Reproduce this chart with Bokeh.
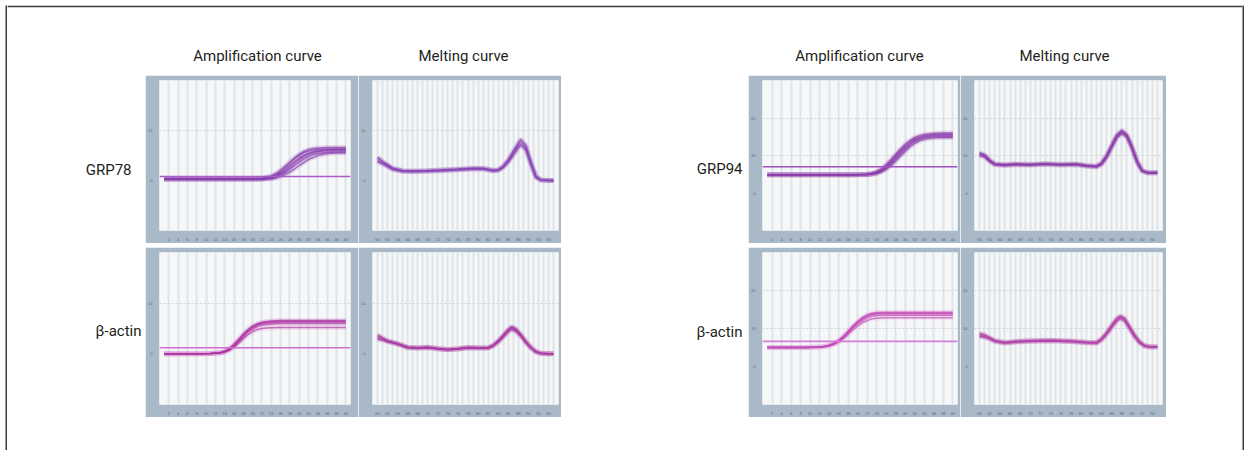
from bokeh.plotting import figure
from bokeh.layouts import row, column
from bokeh.models import Range1d, Span, Label, FixedTicker, Spacer
from bokeh.embed import file_html
from bokeh.resources import INLINE

# ---------------- texts ----------------
col_titles = ["Amplification curve", "Melting curve", "Amplification curve", "Melting curve"]
gene_labels_left = ["GRP78", "β-actin"]
gene_labels_right = ["GRP94", "β-actin"]

# ---------------- GRP78 amplification ----------------
grp78_amp_cycles = [1, 4, 8, 12, 16, 20, 22, 24, 25, 26, 27, 28, 29, 30, 31, 32, 33, 34, 36, 38, 40]
grp78_amp_curves = [
    [0.3, 0.3, 0.3, 0.3, 0.3, 0.3, 0.4, 0.9, 1.4, 2.1, 2.9, 3.7, 4.5, 5.1, 5.6, 5.9, 6.1, 6.2, 6.3, 6.3, 6.3],
    [0.3, 0.3, 0.3, 0.3, 0.3, 0.3, 0.35, 0.6, 1.0, 1.5, 2.2, 3.0, 3.8, 4.5, 5.0, 5.4, 5.7, 5.9, 6.0, 6.0, 6.0],
    [0.3, 0.3, 0.3, 0.3, 0.3, 0.3, 0.3, 0.45, 0.7, 1.1, 1.6, 2.3, 3.0, 3.7, 4.3, 4.8, 5.2, 5.4, 5.6, 5.7, 5.7],
    [0.3, 0.3, 0.3, 0.3, 0.3, 0.3, 0.3, 0.35, 0.5, 0.8, 1.2, 1.7, 2.3, 3.0, 3.6, 4.2, 4.6, 5.0, 5.4, 5.5, 5.5],
    [0.3, 0.3, 0.3, 0.3, 0.3, 0.3, 0.4, 0.8, 1.2, 1.8, 2.6, 3.5, 4.4, 5.2, 5.8, 6.2, 6.4, 6.5, 6.6, 6.6, 6.6],
    [0.3, 0.3, 0.3, 0.3, 0.3, 0.3, 0.3, 0.5, 0.8, 1.3, 1.9, 2.6, 3.4, 4.2, 4.8, 5.3, 5.6, 5.8, 6.1, 6.2, 6.2],
]
grp78_threshold = 0.8

# ---------------- GRP78 melting ----------------
grp78_melt_temps = [60, 61.5, 63, 65, 67, 70, 73, 76, 79, 81, 83, 84, 85, 86, 87, 88, 88.5, 89.5, 90.5, 91.5, 92.5, 94, 95]
grp78_melt_curves = [
    [4.5, 3.4, 2.4, 1.9, 1.85, 1.9, 2.1, 2.2, 2.4, 2.4, 2.0, 2.1, 2.8, 4.0, 5.6, 7.2, 7.8, 6.8, 3.6, 0.8, 0.1, 0.0, 0.0],
    [4.0, 3.2, 2.3, 1.9, 1.8, 1.9, 2.0, 2.2, 2.3, 2.35, 1.95, 2.05, 2.7, 3.8, 5.3, 6.8, 7.3, 6.4, 3.4, 0.7, 0.1, 0.0, 0.0],
    [4.7, 3.5, 2.5, 2.0, 1.95, 2.0, 2.15, 2.3, 2.5, 2.45, 2.05, 2.15, 2.9, 4.2, 5.9, 7.6, 8.3, 7.1, 3.8, 0.9, 0.15, 0.0, 0.0],
    [3.8, 3.0, 2.2, 1.8, 1.75, 1.85, 1.95, 2.1, 2.25, 2.3, 1.9, 2.0, 2.6, 3.6, 5.0, 6.5, 7.0, 6.1, 3.2, 0.6, 0.05, 0.0, 0.0],
]

# ---------------- beta-actin (left) amplification ----------------
actin1_amp_cycles = [1, 4, 8, 11, 13, 14, 15, 16, 17, 18, 19, 20, 21, 22, 23, 24, 26, 30, 34, 38, 40]
actin1_amp_curves = [
    [0, 0, 0, 0.05, 0.2, 0.5, 1.0, 1.8, 2.8, 3.8, 4.7, 5.4, 5.9, 6.2, 6.4, 6.5, 6.6, 6.6, 6.6, 6.6, 6.6],
    [0, 0, 0, 0.05, 0.2, 0.4, 0.9, 1.6, 2.6, 3.6, 4.5, 5.2, 5.7, 6.0, 6.1, 6.2, 6.3, 6.3, 6.3, 6.3, 6.3],
    [0, 0, 0, 0.05, 0.15, 0.4, 0.8, 1.5, 2.4, 3.4, 4.3, 4.9, 5.4, 5.7, 5.8, 5.9, 6.0, 6.0, 6.0, 6.0, 6.0],
    [0, 0, 0, 0.05, 0.15, 0.35, 0.7, 1.3, 2.1, 3.0, 3.8, 4.4, 4.8, 5.0, 5.1, 5.15, 5.2, 5.2, 5.2, 5.2, 5.2],
    [0, 0, 0, 0.05, 0.2, 0.5, 1.1, 1.9, 2.9, 3.9, 4.8, 5.5, 5.9, 6.2, 6.3, 6.4, 6.45, 6.45, 6.45, 6.45, 6.45],
]
actin1_threshold = 1.2

# ---------------- beta-actin (left) melting ----------------
actin1_melt_temps = [60, 61, 62, 64, 66, 68, 70, 72, 74, 76, 78, 80, 82, 83, 84, 85, 86, 86.7, 87.5, 88.5, 89.5, 90.5, 91.5, 92.5, 94, 95]
actin1_melt_curves = [
    [3.8, 3.2, 2.6, 2.0, 1.3, 1.2, 1.3, 1.05, 0.85, 1.0, 1.25, 1.2, 1.2, 1.7, 2.6, 3.7, 4.9, 5.4, 5.0, 3.9, 2.5, 1.3, 0.45, 0.1, 0.0, 0.0],
    [2.9, 2.7, 2.4, 1.9, 1.25, 1.15, 1.25, 1.0, 0.8, 0.95, 1.2, 1.15, 1.15, 1.6, 2.4, 3.4, 4.5, 5.0, 4.6, 3.6, 2.3, 1.2, 0.4, 0.1, 0.0, 0.0],
    [3.5, 3.0, 2.5, 2.0, 1.3, 1.2, 1.3, 1.05, 0.85, 1.0, 1.25, 1.2, 1.2, 1.65, 2.5, 3.6, 4.7, 5.2, 4.8, 3.7, 2.4, 1.25, 0.42, 0.1, 0.0, 0.0],
    [3.1, 2.8, 2.5, 1.95, 1.2, 1.1, 1.2, 0.95, 0.8, 0.95, 1.2, 1.1, 1.1, 1.55, 2.3, 3.3, 4.3, 4.8, 4.4, 3.5, 2.2, 1.15, 0.38, 0.08, 0.0, 0.0],
]

# ---------------- GRP94 amplification ----------------
grp94_amp_cycles = [1, 5, 10, 15, 20, 22, 23, 24, 25, 26, 27, 28, 29, 30, 31, 32, 33, 34, 36, 38, 40]
grp94_amp_curves = [
    [4.9, 4.9, 4.9, 4.9, 4.9, 5.0, 5.2, 5.7, 6.5, 7.6, 8.9, 10.3, 11.7, 13.0, 14.0, 14.8, 15.3, 15.6, 15.9, 16.0, 16.0],
    [4.9, 4.9, 4.9, 4.9, 4.9, 4.95, 5.1, 5.4, 6.0, 6.9, 8.1, 9.4, 10.8, 12.1, 13.2, 14.0, 14.6, 15.0, 15.3, 15.4, 15.4],
    [4.9, 4.9, 4.9, 4.9, 4.9, 4.9, 5.0, 5.2, 5.6, 6.3, 7.3, 8.5, 9.8, 11.1, 12.3, 13.2, 13.9, 14.3, 14.7, 14.8, 14.8],
    [4.9, 4.9, 4.9, 4.9, 4.9, 4.95, 5.05, 5.3, 5.8, 6.6, 7.7, 9.0, 10.4, 11.7, 12.8, 13.7, 14.3, 14.7, 15.0, 15.0, 15.0],
    [4.9, 4.9, 4.9, 4.9, 4.9, 5.0, 5.15, 5.5, 6.2, 7.2, 8.5, 9.9, 11.3, 12.6, 13.6, 14.4, 14.9, 15.3, 15.6, 15.7, 15.7],
]
grp94_threshold = 7.0

# ---------------- GRP94 melting ----------------
grp94_melt_temps = [60, 61, 62, 63, 65, 67, 70, 73, 76, 79, 81, 83, 84, 85, 86, 87, 88, 89, 90, 91, 92, 93, 95]
grp94_melt_curves = [
    [10.8, 10.2, 8.8, 7.8, 7.6, 7.8, 7.6, 7.9, 7.7, 7.8, 7.4, 7.2, 8.0, 10.0, 12.8, 15.5, 16.8, 15.6, 12.5, 8.6, 6.0, 5.5, 5.5],
    [10.2, 9.8, 8.5, 7.6, 7.4, 7.6, 7.5, 7.7, 7.5, 7.6, 7.2, 7.0, 7.8, 9.7, 12.4, 15.0, 16.2, 15.1, 12.0, 8.3, 5.9, 5.4, 5.4],
    [10.5, 10.0, 8.7, 7.7, 7.5, 7.7, 7.6, 7.8, 7.6, 7.7, 7.3, 7.1, 7.9, 9.9, 12.6, 15.3, 16.5, 15.3, 12.2, 8.4, 6.0, 5.5, 5.5],
    [9.9, 9.6, 8.4, 7.5, 7.3, 7.5, 7.4, 7.6, 7.4, 7.5, 7.1, 6.9, 7.6, 9.4, 12.0, 14.6, 15.8, 14.8, 11.8, 8.1, 5.8, 5.3, 5.3],
]

# ---------------- beta-actin (right) amplification ----------------
actin2_amp_cycles = [1, 5, 9, 12, 13, 14, 15, 16, 17, 18, 19, 20, 21, 22, 23, 24, 26, 30, 34, 38, 40]
actin2_amp_curves = [
    [5.0, 5.0, 5.0, 5.1, 5.3, 5.6, 6.1, 6.9, 8.0, 9.3, 10.7, 11.9, 12.9, 13.6, 14.0, 14.2, 14.3, 14.3, 14.3, 14.3, 14.3],
    [5.0, 5.0, 5.0, 5.1, 5.25, 5.5, 6.0, 6.7, 7.7, 9.0, 10.3, 11.5, 12.5, 13.2, 13.6, 13.8, 13.9, 13.9, 13.9, 13.9, 13.9],
    [5.0, 5.0, 5.0, 5.05, 5.2, 5.45, 5.9, 6.6, 7.6, 8.8, 10.1, 11.2, 12.1, 12.8, 13.2, 13.4, 13.5, 13.5, 13.5, 13.5, 13.5],
    [5.0, 5.0, 5.0, 5.05, 5.2, 5.4, 5.8, 6.4, 7.3, 8.4, 9.6, 10.6, 11.5, 12.1, 12.5, 12.7, 12.8, 12.8, 12.8, 12.8, 12.8],
    [5.0, 5.0, 5.0, 5.1, 5.3, 5.6, 6.1, 6.8, 7.9, 9.2, 10.5, 11.7, 12.7, 13.4, 13.8, 14.0, 14.1, 14.1, 14.1, 14.1, 14.1],
]
actin2_threshold = 6.6

# ---------------- beta-actin (right) melting ----------------
actin2_melt_temps = [60, 61, 62, 63, 65, 67, 70, 74, 78, 81, 83, 84, 85, 86, 87, 87.7, 88.5, 89.5, 90.5, 91.5, 92.5, 93.5, 95]
actin2_melt_curves = [
    [8.8, 8.4, 7.6, 6.8, 6.3, 6.6, 6.8, 6.9, 6.7, 6.4, 6.3, 7.3, 8.9, 10.9, 12.7, 13.4, 12.8, 10.6, 8.3, 6.5, 5.5, 5.2, 5.2],
    [7.8, 7.7, 7.3, 6.7, 6.2, 6.5, 6.7, 6.8, 6.6, 6.3, 6.2, 7.1, 8.6, 10.5, 12.2, 12.8, 12.3, 10.2, 8.0, 6.3, 5.4, 5.2, 5.2],
    [8.4, 8.1, 7.5, 6.8, 6.3, 6.6, 6.8, 6.9, 6.7, 6.4, 6.3, 7.2, 8.8, 10.8, 12.5, 13.1, 12.6, 10.4, 8.2, 6.4, 5.5, 5.2, 5.2],
    [8.0, 7.8, 7.2, 6.6, 6.1, 6.4, 6.6, 6.7, 6.5, 6.2, 6.1, 7.0, 8.4, 10.2, 11.9, 12.5, 12.0, 10.0, 7.8, 6.2, 5.3, 5.1, 5.1],
]

# ---------------- styling ----------------
FRAME = "#a9b9c7"
PLOT_BG = "#f6f7f8"
GRID = "#e0e4e8"
BORDER = "#3a3a3a"
TEXT_FONT = "Roboto"
TEXT_SIZE = "15px"
TEXT_COLOR = "#231f20"

W_IN = 1235          # content width between the two border strips
H_TITLE = 68         # title band below the top border line
H_TOP = 168
H_GAP = 4
H_BOT = 170
H_FOOT = 33
COL_W = [138, 213, 203, 187, 212, 206]
COL_W.append(W_IN - sum(COL_W))
H_ALL = 2 + H_TITLE + H_TOP + H_GAP + H_BOT + H_FOOT


def blank(width, height, fill="white"):
    p = figure(width=width, height=height, x_range=Range1d(0, width), y_range=Range1d(height, 0),
               output_backend="svg", toolbar_location=None, title=None,
               x_axis_location=None, y_axis_location=None,
               min_border=0, border_fill_color=fill, background_fill_color=fill,
               outline_line_color=None)
    p.xgrid.visible = False
    p.ygrid.visible = False
    return p


def add_text(p, x, y, text, align):
    p.add_layout(Label(x=x, y=y, text=text, text_align=align, text_baseline="alphabetic",
                       text_font=TEXT_FONT, text_font_size=TEXT_SIZE, text_color=TEXT_COLOR))


def panel(width, height, xr, yr, xticks, xgrid, yticks, borders, xs, curves, color,
          threshold=None, thr_color=None, halo=None):
    p = figure(width=width, height=height, x_range=Range1d(*xr), y_range=Range1d(*yr),
               output_backend="svg", toolbar_location=None, title=None,
               min_border_left=borders[0], min_border_right=borders[1],
               min_border_top=borders[2], min_border_bottom=borders[3],
               border_fill_color=FRAME, background_fill_color=PLOT_BG, outline_line_color=None)
    for ax in (p.xaxis[0], p.yaxis[0]):
        ax.axis_line_color = None
        ax.major_tick_line_color = None
        ax.minor_tick_line_color = None
        ax.major_label_text_font_size = "4px"
        ax.major_label_text_color = "#5a6875"
        ax.major_label_standoff = 1
    p.xaxis.ticker = FixedTicker(ticks=xticks)
    p.yaxis.ticker = FixedTicker(ticks=yticks)
    p.xgrid.ticker = FixedTicker(ticks=xgrid)
    p.xgrid.grid_line_color = GRID
    p.xgrid.grid_line_width = 2
    p.ygrid.ticker = FixedTicker(ticks=[t for t in yticks if t != 0])
    p.ygrid.grid_line_color = "#cdd2d7"
    p.ygrid.grid_line_dash = "2 2"
    if threshold is not None:
        p.add_layout(Span(location=threshold, dimension="width", line_color=thr_color, line_width=1.6))
    for ys in curves:
        p.line(xs, ys, line_color=halo or color, line_width=5, line_alpha=0.16)
    for ys in curves:
        p.line(xs, ys, line_color=color, line_width=1.5, line_alpha=0.65)
    return p


amp_xticks = list(range(2, 41, 2))
amp_grid = list(range(0, 42, 2))
melt_xticks = list(range(60, 96, 2))
melt_grid = list(range(59, 97))

# top row
top_left_lbl = blank(COL_W[0], H_TOP)
add_text(top_left_lbl, 124, 100, gene_labels_left[0], "right")
p_grp78_amp = panel(COL_W[1], H_TOP, (0, 41), (-10, 20), amp_xticks, amp_grid, [0, 10], (13, 8, 5, 8),
                    grp78_amp_cycles, grp78_amp_curves, "#8a3db0", grp78_threshold, "#a75cc6")
p_grp78_melt = panel(COL_W[2], H_TOP, (59, 96), (-10, 20), melt_xticks, melt_grid, [0, 10], (9, 3, 5, 8),
                     grp78_melt_temps, grp78_melt_curves, "#8943b3")
top_mid = blank(COL_W[3], H_TOP)
add_text(top_mid, 181, 99, gene_labels_right[0], "right")
p_grp94_amp = panel(COL_W[4], H_TOP, (0, 41), (-10, 30), amp_xticks, amp_grid, [0, 10, 20], (14, 3, 5, 8),
                    grp94_amp_cycles, grp94_amp_curves, "#8a3aaa", grp94_threshold, "#a24fc0")
p_grp94_melt = panel(COL_W[5], H_TOP, (59, 96), (-10, 30), melt_xticks, melt_grid, [0, 10, 20], (10, 4, 5, 8),
                     grp94_melt_temps, grp94_melt_curves, "#8a3aa8")
top_right = blank(COL_W[6], H_TOP)

# bottom row
bot_left_lbl = blank(COL_W[0], H_BOT)
add_text(bot_left_lbl, 134, 88, gene_labels_left[1], "right")
p_actin1_amp = panel(COL_W[1], H_BOT, (0, 41), (-10, 20), amp_xticks, amp_grid, [0, 10], (13, 8, 5, 10),
                     actin1_amp_cycles, actin1_amp_curves, "#ad339f", actin1_threshold, "#d06fd2", halo="#d070c8")
p_actin1_melt = panel(COL_W[2], H_BOT, (59, 96), (-10, 20), melt_xticks, melt_grid, [0, 10], (9, 3, 5, 10),
                      actin1_melt_temps, actin1_melt_curves, "#a8379f")
bot_mid = blank(COL_W[3], H_BOT)
add_text(bot_mid, 181, 89, gene_labels_right[1], "right")
p_actin2_amp = panel(COL_W[4], H_BOT, (0, 41), (-10, 30), amp_xticks, amp_grid, [0, 10, 20], (14, 3, 5, 10),
                     actin2_amp_cycles, actin2_amp_curves, "#c04ab3", actin2_threshold, "#d47cd8", halo="#e08fd8")
p_actin2_melt = panel(COL_W[5], H_BOT, (59, 96), (-10, 30), melt_xticks, melt_grid, [0, 10, 20], (10, 4, 5, 10),
                      actin2_melt_temps, actin2_melt_curves, "#b040a8")
bot_right = blank(COL_W[6], H_BOT)

# title band: its top border fill draws the top edge of the outer frame
title_fig = figure(width=W_IN, height=H_TITLE + 2, x_range=Range1d(0, W_IN), y_range=Range1d(H_TITLE, 0),
                   output_backend="svg", toolbar_location=None, title=None,
                   x_axis_location=None, y_axis_location=None,
                   min_border_left=0, min_border_right=0, min_border_top=2, min_border_bottom=0,
                   border_fill_color=BORDER, background_fill_color="white", outline_line_color=None)
title_fig.xgrid.visible = False
title_fig.ygrid.visible = False
for tx, tt in zip([250, 456, 852, 1057], col_titles):
    add_text(title_fig, tx, 48, tt, "center")

gap_fig = blank(W_IN, H_GAP)
foot_fig = blank(W_IN, H_FOOT)

content = column(
    title_fig,
    row(top_left_lbl, p_grp78_amp, p_grp78_melt, top_mid, p_grp94_amp, p_grp94_melt, top_right),
    gap_fig,
    row(bot_left_lbl, p_actin1_amp, p_actin1_melt, bot_mid, p_actin2_amp, p_actin2_melt, bot_right),
    foot_fig,
)

layout = column(
    Spacer(width=1246, height=5),
    row(Spacer(width=5, height=H_ALL), blank(2, H_ALL, fill=BORDER), content,
        blank(2, H_ALL, fill=BORDER)),
)

open("out.html", "w").write(file_html(layout, INLINE))
